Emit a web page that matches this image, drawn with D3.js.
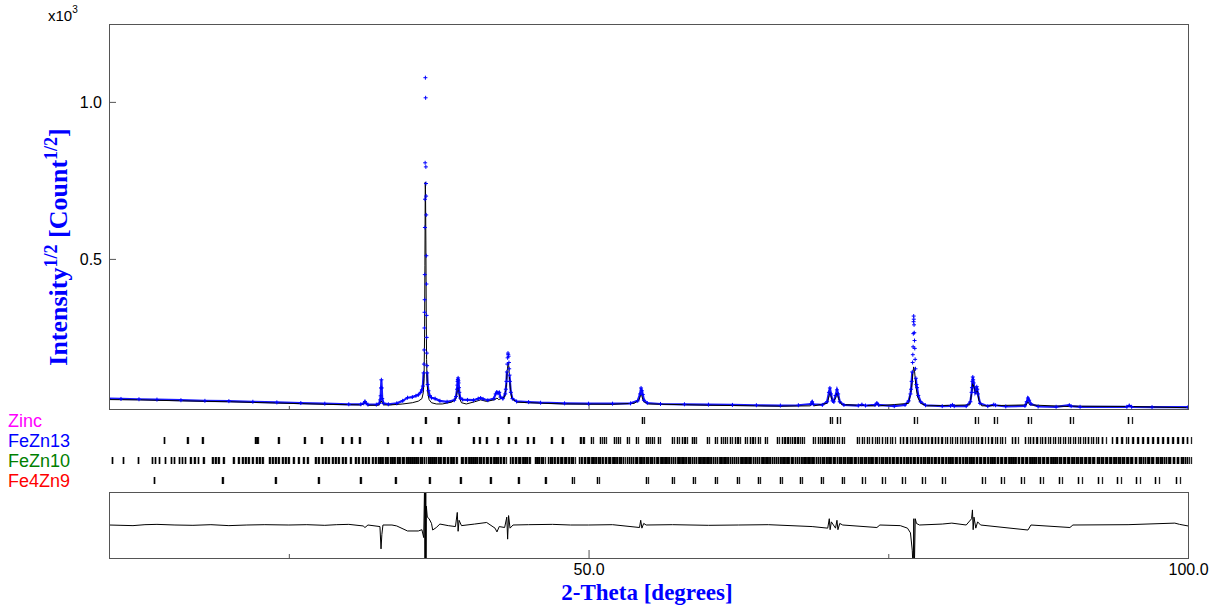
<!DOCTYPE html>
<html>
<head>
<meta charset="utf-8">
<script src="https://cdn.jsdelivr.net/npm/d3@7/dist/d3.min.js"></script>
<style>
  body { margin: 0; background: #fff; }
  svg text { font-family: "Liberation Sans", Arial, sans-serif; }
</style>
</head>
<body>
<div id="chart"></div>
<script>
// observed intensity, sqrt(counts), [2theta, value]
const observed = [
  [10.0,55],[11.0,54],[12.5,53],[14.0,52],[16.0,50],[18.0,48],[20.0,47],[22.0,45],[24.0,43],
  [26.0,41],[28.0,39],[30.0,37],[31.0,37],[31.25,40],[31.35,46],[31.45,40],[31.6,36],[32.3,36],
  [32.55,40],[32.62,51],[32.66,64],[32.69,89],[32.72,115],[32.75,89],[32.79,55],[32.9,40],[33.3,37],
  [34.0,40],[34.5,48],[34.9,58],[35.3,60],[35.6,64],[35.8,67],[36.0,75],[36.1,83],[36.18,95],
  [36.24,137],[36.27,165],[36.29,210],[36.31,280],[36.32,330],[36.33,370],[36.34,450],[36.35,600],
  [36.36,690],[36.37,806],[36.39,1077],[36.41,1013],[36.43,793],[36.44,740],[36.45,700],[36.46,640],
  [36.47,510],[36.48,420],[36.49,320],[36.50,250],[36.51,200],[36.53,160],[36.54,137],[36.58,100],
  [36.65,80],[36.75,65],[36.9,58],[37.2,55],[37.6,48],[38.2,45],[38.8,50],[38.95,62],[39.03,85],
  [39.06,98],[39.08,110],[39.10,116],[39.12,121],[39.14,112],[39.16,105],[39.19,90],[39.22,75],
  [39.3,57],[39.5,52],[39.9,51],[40.4,50],[40.8,55],[41.0,57],
  [41.2,54],[41.6,50],[42.1,55],[42.25,70],[42.35,76],[42.45,72],[42.55,75],[42.65,60],[42.85,55],
  [43.05,70],[43.1,85],[43.15,110],[43.19,140],[43.22,165],[43.25,185],[43.28,200],[43.30,195],
  [43.33,190],[43.36,170],[43.38,150],[43.41,130],[43.44,110],[43.52,75],
  [43.65,55],[44.0,46],[45.0,44],[46.0,42],[48.0,40],[50.0,39],[52.0,39],[53.5,40],[54.1,48],
  [54.3,70],[54.38,89],[54.45,80],[54.52,68],[54.62,50],[54.9,41],[56.0,38],[58.0,37],[60.0,36],
  [62.0,35],[64.0,34],[66.0,33],[67.5,34],[68.55,38],[68.65,45],[68.75,37],[69.5,35],[69.9,45],
  [70.05,75],[70.13,89],[70.22,70],[70.35,48],[70.45,45],[70.6,65],[70.72,83],[70.82,70],[70.95,45],
  [71.3,35],[72.5,33],[72.8,36],[73.1,33],[73.9,35],[74.05,41],[74.2,35],[75.5,31],[76.4,35],
  [76.7,48],[76.85,70],[76.9,85],[76.95,110],[77.0,140],[77.03,170],[77.05,195],[77.07,220],
  [77.09,262],[77.11,300],[77.12,318],[77.13,308],[77.15,290],[77.17,265],[77.19,240],[77.21,215],
  [77.24,180],[77.27,150],[77.3,120],[77.35,100],[77.4,90],[77.5,65],[77.7,45],[78.1,34],[79.5,31],
  [80.2,32],[80.35,35],[80.5,31],
  [81.5,31],[81.85,45],[81.95,75],[81.98,90],[82.02,110],[82.05,124],[82.08,115],[82.12,105],
  [82.25,75],[82.35,85],[82.38,93],[82.42,85],[82.48,70],
  [82.65,40],[83.3,31],[83.8,36],[83.95,34],[84.8,30],[86.4,32],[86.55,45],[86.65,57],[86.75,50],
  [86.9,38],[87.5,30],[89.0,29],[90.1,34],[90.25,31],[91.0,29],[94.9,29],[95.1,33],[95.3,29],
  [97.0,28],[100.0,28]
];

// calculated profile
const calculated = [
  [10.0,52],[12.5,51],[16.0,48],[20.0,45],[24.0,41],[28.0,37],[31.0,35],[31.25,38],[31.35,44],
  [31.45,38],[31.6,34],[32.5,34],[32.7,48],[32.9,35],[33.5,35],[34.5,38],[35.3,42],[35.8,47],
  [36.1,55],[36.22,75],[36.28,120],[36.32,250],[36.35,480],[36.38,745],[36.40,720],[36.43,560],
  [36.46,330],[36.49,180],[36.53,110],[36.6,70],[36.7,52],[36.9,42],[37.3,38],[37.8,38],[38.6,44],
  [38.95,55],[39.05,80],[39.11,92],[39.17,80],[39.25,55],[39.4,42],[39.8,38],[40.5,45],[41.0,51],
  [41.5,46],[42.2,52],[42.36,57],[42.5,52],[43.0,60],[43.15,100],[43.22,145],[43.29,169],
  [43.34,160],[43.4,125],[43.48,85],[43.6,55],[44.0,44],[45.0,42],[48.0,38],[52.0,37],[53.8,40],
  [54.2,50],[54.35,67],[54.45,62],[54.6,45],[55.0,38],[60.0,34],[66.0,31],[68.5,32],[68.65,40],
  [68.8,32],[69.9,40],[70.08,65],[70.14,76],[70.25,58],[70.4,44],[70.62,58],[70.72,73],[70.85,55],
  [71.1,36],[73.9,32],[74.05,38],[74.2,32],[76.7,40],[76.95,90],[77.06,140],[77.12,156],[77.2,140],
  [77.3,95],[77.45,60],[77.7,40],[78.2,32],[81.8,35],[81.98,80],[82.05,105],[82.12,95],[82.3,70],
  [82.4,88],[82.55,50],[82.8,32],[86.5,35],[86.65,45],[86.8,35],[90.0,30],[90.15,31],[95.1,30],
  [100.0,26]
];

// difference curve as drawn
const difference = [
  [10,0],[11,-1],[12,-2],[13,1],[14,2],[15.5,0],[17,-1],[18.5,1],[20,-2],[21.5,0],[23,1],[25,0],
  [26.5,1],[28,-1],[29,1],[30,2],[31.2,-3],[31.35,-8],[31.6,0],
  [32.6,-5],[32.69,-76],[32.76,-30],[32.85,0],[33.6,0],[34.0,-3],[34.9,-19],[35.8,-19],[36.1,-15],
  [36.25,-40],[36.33,150],[36.36,-200],[36.38,200],[36.40,-200],[36.42,200],[36.44,-200],[36.47,60],
  [36.55,25],[36.7,20],
  [36.9,5],[37.0,-16],[37.3,-8],[37.6,3],[38.3,-2],[38.9,-5],[39.05,40],[39.12,-20],[39.2,15],
  [39.4,-2],[40.5,3],[41.5,8],[42.2,-10],[42.36,-22],[42.55,-5],[43.0,-8],[43.18,25],[43.25,-45],
  [43.33,30],[43.45,-10],[43.7,0],[45,1],[47,2],[48.5,0],[50,0],[52,1],[54.25,-8],[54.35,15],
  [54.45,-10],[54.6,5],[54.8,0],[57,1],[60,-1],[62.5,0],[65,1],[68.65,-5],[69.95,-10],[70.08,20],
  [70.15,-15],[70.25,10],[70.6,-10],[70.72,15],[70.8,-15],[70.95,5],[71.2,0],[74.05,-8],[74.3,0],
  [76.0,-2],[76.6,-10],[76.85,-25],[77.0,-80],[77.08,-150],[77.13,20],[77.17,-150],[77.25,20],
  [77.35,5],[77.6,0],[79.5,3],[80.3,6],[81.5,0],[81.95,20],[82.02,48],[82.08,-15],[82.15,25],
  [82.3,-10],[82.45,10],[82.7,0],[86.65,-16],[86.9,0],[90.15,-8],[90.4,0],[95,1],[98.9,6],
  [99.3,2],[100,-3]
];

// reflection positions (2theta, Ka1)
const zincRefl = [36.36,39.11,43.28,54.46,70.14,70.73,77.15,82.24,83.81,86.65,90.15,94.99];

const feZn13Refl = [
  14.59,16.51,17.76,22.18,22.34,24.10,26.26,27.68,29.43,30.18,30.85,33.19,35.27,35.94,37.36,37.61,
  40.36,40.86,41.44,42.36,43.28,43.86,44.86,45.36,46.86,47.78,49.28,49.53,50.20,50.95,51.28,52.12,
  52.45,53.20,53.95,54.79,54.95,55.29,55.79,56.96,57.37,57.79,58.04,58.62,58.79,59.87,60.54,61.04,
  61.38,61.79,62.21,62.46,63.04,63.46,63.71,64.13,64.71,65.71,66.13,66.38,66.63,66.96,67.21,67.46,
  67.80,68.72,69.13,69.47,69.72,69.97,70.30,70.72,71.13,72.39,72.80,73.22,73.64,74.05,74.47,74.89,
  75.30,75.97,76.22,76.56,76.97,77.22,77.47,77.81,78.06,78.31,78.64,78.89,79.14,79.47,79.89,80.31,
  80.73,81.14,81.39,81.64,82.06,82.48,82.81,83.31,83.64,84.06,84.48,85.31,85.56,86.40,86.81,87.06,
  87.40,87.81,88.07,88.48,88.90,89.32,89.73,90.15,90.57,90.98,91.40,91.65,92.07,92.49,92.82,93.65,
  94.07,94.49,94.99,95.40,95.82,96.24,96.66,97.07,97.49,97.91,98.32,98.74,99.16,99.57,99.91
];

const feZn10Refl = [
  10.25,11.17,12.42,13.59,13.84,14.17,14.67,15.17,15.42,15.84,16.09,16.34,16.76,17.09,17.42,17.84,
  18.59,18.84,19.09,19.51,20.34,20.76,21.09,21.34,21.59,21.93,22.26,22.51,22.76,23.34,23.59,23.84,
  24.10,24.43,24.68,24.93,25.35,25.76,26.18,26.51,27.18,27.43,27.76,28.02,28.27,28.60,28.85,29.10,
  29.43,29.68,30.10,30.52,30.77,31.10,31.35,31.60,31.94,32.19,32.44,
  32.62,32.81,33.04,33.18,33.43,33.57,33.75,34.06,34.19,34.41,34.53,34.74,34.90,35.11,35.24,35.43,
  35.60,35.81,35.93,36.14,36.31,36.62,36.77,36.97,37.08,37.31,37.44,37.63,37.82,37.96,38.17,38.31,
  38.52,38.68,38.91,39.33,39.46,39.67,39.81,40.03,40.16,40.37,40.51,40.72,40.84,41.07,41.21,41.43,
  41.53,41.77,41.90,42.12,42.27,42.48,42.60,42.83,42.98,43.47,43.61,43.83,43.96,44.17,44.30,44.53,
  44.66,44.88,45.01,45.52,45.66,45.88,46.01,46.22,46.63,46.76,46.98,47.10,47.33,47.46,47.67,47.81,
  48.03,48.16,48.38,48.51,48.73,49.22,49.36,49.58,49.70,49.93,50.06,50.28,50.41,50.63,50.76,50.98,
  51.10,51.33,51.46,51.68,51.80,52.03,52.16,52.38,52.50,52.73,52.86,53.22,53.36,53.58,53.70,53.93,
  54.06,54.28,54.40,54.63,54.76,54.98,55.10,55.33,55.46,55.68,55.80,56.03,56.16,56.38,56.50,56.73,
  56.86,57.08,57.20,57.43,57.56,57.78,57.90,58.13,58.26,58.48,58.60,58.83,58.96,59.18,59.30,59.53,
  59.66,59.88,60.00,60.23,60.36,60.58,60.70,60.93,61.06,61.28,61.40,61.63,61.76,61.98,62.10,62.33,
  62.46,62.68,62.80,63.03,63.16,63.38,63.50,63.73,63.86,64.08,64.20,64.43,64.56,64.78,64.90,65.13,
  65.26,65.48,65.60,65.83,65.96,66.18,66.30,66.53,66.66,66.88,67.00,67.23,67.36,67.58,67.70,67.93,
  68.06,68.28,68.40,68.63,68.76,68.98,69.10,69.33,69.46,69.68,69.80,70.03,70.16,70.38,70.50,70.73,
  70.86,71.08,71.20,71.43,71.56,71.78,71.90,72.13,72.26,72.48,72.60,72.83,72.96,73.18,73.30,73.53,
  73.66,73.88,74.00,74.23,74.36,74.58,74.70,74.93,75.06,75.28,75.40,75.63,75.76,75.98,76.10,76.33,
  76.46,76.68,76.80,77.03,77.16,77.38,77.50,77.73,77.86,78.08,78.20,78.43,78.56,78.78,78.90,79.13,
  79.26,79.48,79.60,79.83,79.96,80.18,80.30,80.53,80.66,80.88,81.00,81.23,81.36,81.58,81.70,81.93,
  82.06,82.28,82.40,82.63,82.76,82.98,83.10,83.33,83.46,83.68,83.80,84.03,84.16,84.38,84.50,84.73,
  84.86,85.08,85.20,85.43,85.56,85.78,85.90,86.13,86.26,86.48,86.60,86.83,86.96,87.18,87.30,87.53,
  87.66,87.88,88.00,88.23,88.36,88.58,88.70,88.93,89.06,89.28,89.40,89.63,89.76,89.98,90.10,90.33,
  90.46,90.68,90.80,91.03,91.16,91.38,91.50,91.73,91.86,92.08,92.20,92.43,92.56,92.78,92.90,93.13,
  93.26,93.48,93.60,93.83,93.96,94.18,94.30,94.53,94.66,94.88,95.00,95.23,95.36,95.58,95.70,95.93,
  96.06,96.28,96.40,96.63,96.76,96.98,97.10,97.33,97.46,97.68,97.80,98.03,98.16,98.38,98.50,98.73,
  98.86,99.08,99.20,99.43,99.56,99.78,99.90
];

const fe4Zn9Refl = [
  13.75,19.42,23.84,27.43,30.93,33.85,36.69,39.27,41.78,44.11,46.36,48.62,50.70,54.79,56.96,58.72,
  60.55,62.39,64.14,65.97,67.64,69.39,71.14,72.81,74.48,76.15,77.82,79.49,82.82,84.41,86.08,87.66,
  89.25,90.83,92.50,94.08,95.67,97.25,99.00
];

const phaseNames = ['Zinc', 'FeZn13', 'FeZn10', 'Fe4Zn9'];
const phaseColors = ['#ff00ff', '#0000ff', '#008000', '#ff0000'];
const phaseRefl = [zincRefl, feZn13Refl, feZn10Refl, fe4Zn9Refl];

const xTicksMajor = [50, 100];
const xTicksMinor = [25, 75];
const yTicks = [500, 1000];

// ---- drawing ----
const width = 1217, height = 607;
const left = 109, right = 1188;
const mainTop = 24, mainBottom = 409;
const diffTop = 492, diffBottom = 558;

const svg = d3.select('#chart').append('svg')
    .attr('width', width)
    .attr('height', height);

const x = d3.scaleLinear().domain([10, 100]).range([left, right]);
const y = d3.scaleLinear().domain([22, 1248]).range([mainBottom, mainTop]);
const yDiff = d3.scaleLinear().domain([-105, 105]).range([diffBottom, diffTop]);

const defs = svg.append('defs');
defs.append('clipPath').attr('id', 'clip-main')
    .append('rect')
    .attr('x', left).attr('y', mainTop)
    .attr('width', right - left).attr('height', mainBottom - mainTop);
defs.append('clipPath').attr('id', 'clip-diff')
    .append('rect')
    .attr('x', left).attr('y', diffTop)
    .attr('width', right - left).attr('height', diffBottom - diffTop);

// y axis (ticks inside)
const yAxis = d3.axisLeft(y)
    .tickValues(yTicks)
    .tickSizeInner(-7)
    .tickSizeOuter(0)
    .tickPadding(7)
    .tickFormat(d => (d / 1000).toFixed(1));

const gy = svg.append('g')
    .attr('transform', `translate(${left},0)`)
    .call(yAxis);
gy.select('.domain').remove();
gy.selectAll('line').attr('stroke', '#555');
gy.selectAll('text')
    .attr('font-size', 16)
    .attr('fill', '#000')
    .attr('font-family', '"Liberation Sans", Arial, sans-serif');

// x ticks, inside the boxes
function bottomTicks(yPos, values, size, labels) {
    const ax = d3.axisBottom(x)
        .tickValues(values)
        .tickSizeInner(-size)
        .tickSizeOuter(0)
        .tickPadding(6)
        .tickFormat(labels ? (d => d.toFixed(1)) : () => '');
    const g = svg.append('g')
        .attr('transform', `translate(0,${yPos})`)
        .call(ax);
    g.select('.domain').remove();
    g.selectAll('line').attr('stroke', '#555');
    g.selectAll('text')
        .attr('font-size', 16)
        .attr('fill', '#000')
        .attr('font-family', '"Liberation Sans", Arial, sans-serif');
    return g;
}
bottomTicks(mainBottom, [50], 6, false);
bottomTicks(mainBottom, xTicksMinor, 3, false);
bottomTicks(diffBottom, xTicksMajor, 8, true);
bottomTicks(diffBottom, xTicksMinor, 4, false);

// x10^3
const mult = svg.append('text')
    .attr('x', 48).attr('y', 21)
    .attr('font-size', 15)
    .attr('fill', '#000');
mult.append('tspan').text('x10');
mult.append('tspan').attr('font-size', 10).attr('dy', -8).text('3');

// observed and calculated
const gMain = svg.append('g').attr('clip-path', 'url(#clip-main)');

// the continuous blue band only through the low part, peak tops are shown as markers
const obsLine = d3.line()
    .defined(d => d[1] <= 140)
    .x(d => x(d[0])).y(d => y(d[1]));
const calcLine = d3.line().x(d => x(d[0])).y(d => y(d[1]));

gMain.append('path')
    .datum(observed)
    .attr('fill', 'none')
    .attr('stroke', '#1a1aff')
    .attr('stroke-width', 2.2)
    .attr('d', obsLine);

gMain.append('path')
    .datum(calculated)
    .attr('fill', 'none')
    .attr('stroke', '#000')
    .attr('stroke-width', 1)
    .attr('d', calcLine);

gMain.selectAll('path.obs-mark')
    .data(observed)
    .enter().append('path')
    .attr('class', 'obs-mark')
    .attr('d', d => `M${x(d[0]) - 2},${y(d[1])}h4M${x(d[0])},${y(d[1]) - 2}v4`)
    .attr('stroke', '#0000ff')
    .attr('stroke-width', 1);

svg.append('rect')
    .attr('x', left + 0.5).attr('y', mainTop + 0.5)
    .attr('width', right - left).attr('height', mainBottom - mainTop)
    .attr('fill', 'none')
    .attr('stroke', '#555');

// reflection markers, Ka1 plus Ka2 companion
const ratioK = 1.54439 / 1.54056;
const ka2 = t => 2 * Math.asin(Math.min(1, Math.sin(t * Math.PI / 360) * ratioK)) * 180 / Math.PI;
const rowY = [417, 437, 457, 477];

phaseRefl.forEach((refl, i) => {
    const g = svg.append('g');
    g.selectAll('line.k2')
        .data(refl)
        .enter().append('line')
        .attr('class', 'k2')
        .attr('x1', d => Math.round(x(ka2(d))) + 0.5)
        .attr('x2', d => Math.round(x(ka2(d))) + 0.5)
        .attr('y1', rowY[i]).attr('y2', rowY[i] + 7)
        .attr('stroke', '#222')
        .attr('stroke-width', 1.3);
    g.selectAll('line.k1')
        .data(refl)
        .enter().append('line')
        .attr('class', 'k1')
        .attr('x1', d => Math.round(x(d)) + 0.5)
        .attr('x2', d => Math.round(x(d)) + 0.5)
        .attr('y1', rowY[i]).attr('y2', rowY[i] + 7)
        .attr('stroke', '#000')
        .attr('stroke-width', 1.5);

    svg.append('text')
        .attr('x', 8)
        .attr('y', 427 + i * 20)
        .attr('font-size', 18)
        .attr('fill', phaseColors[i])
        .text(phaseNames[i]);
});

// difference panel
const lineDiff = d3.line().x(d => x(d[0])).y(d => yDiff(d[1]));
svg.append('g').attr('clip-path', 'url(#clip-diff)')
    .append('path')
    .datum(difference)
    .attr('fill', 'none')
    .attr('stroke', '#000')
    .attr('stroke-width', 1)
    .attr('d', lineDiff);

svg.append('rect')
    .attr('x', left + 0.5).attr('y', diffTop + 0.5)
    .attr('width', right - left).attr('height', diffBottom - diffTop)
    .attr('fill', 'none')
    .attr('stroke', '#555');

// axis titles
svg.append('text')
    .attr('x', 647).attr('y', 600)
    .attr('text-anchor', 'middle')
    .attr('font-weight', 'bold')
    .attr('font-size', 23)
    .attr('fill', '#0000ff')
    .style('font-family', '"Liberation Serif", "Times New Roman", serif')
    .text('2-Theta [degrees]');

const yTitle = svg.append('text')
    .attr('transform', 'translate(67,247) rotate(-90)')
    .attr('text-anchor', 'middle')
    .attr('font-weight', 'bold')
    .attr('font-size', 26)
    .attr('fill', '#0000ff')
    .style('font-family', '"Liberation Serif", "Times New Roman", serif');
yTitle.append('tspan').text('Intensity');
yTitle.append('tspan').attr('font-size', 18).attr('dy', -10).text('1/2');
yTitle.append('tspan').attr('dy', 10).text(' [Count');
yTitle.append('tspan').attr('font-size', 18).attr('dy', -10).text('1/2');
yTitle.append('tspan').attr('dy', 10).text(']');
</script>
</body>
</html>
